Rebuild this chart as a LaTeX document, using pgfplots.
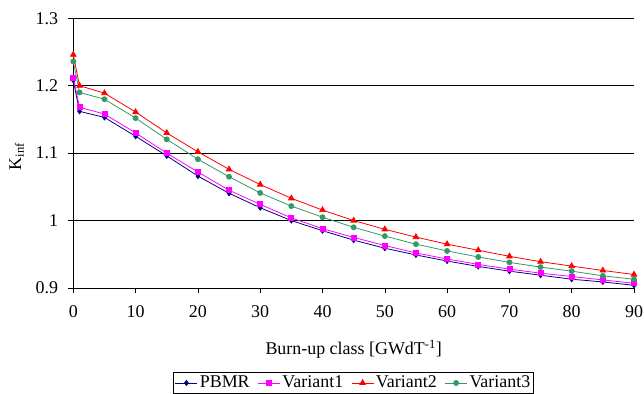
\documentclass[border=0pt]{standalone}
\usepackage{pgfplots}
\pgfplotsset{compat=1.18}
\usepackage{fontspec}
\setmainfont{Liberation Serif}
\definecolor{pbmr}{RGB}{0,0,128}
\definecolor{vone}{RGB}{255,0,255}
\definecolor{vtwo}{RGB}{255,0,0}
\definecolor{vthree}{RGB}{51,153,102}
\begin{document}
\fontsize{18}{21}\selectfont
\begin{tikzpicture}
\begin{axis}[name=ax,
  scale only axis, width=560.7bp, height=269.7bp,
  xmin=0, xmax=90, ymin=0.9, ymax=1.3,
  xtick={0,10,...,90}, ytick={0.9,1,1.1,1.2,1.3},
  yticklabels={0.9,1,1.1,1.2,1.3},
  /pgf/number format/assume math mode=true,
  ticklabel style={font=\fontsize{18}{21}\selectfont},
  xticklabel style={yshift=-6bp},
  yticklabel style={xshift=-4bp},
  axis x line*=bottom, axis y line*=left,
  axis line style={black, line width=0.6pt, -},
  tick style={black, line width=0.6pt},
  tick align=outside, major tick length=5bp,
  ymajorgrids, grid style={black, line width=0.6pt},
  clip=false,
  xlabel={Burn-up class [GWdT\textsuperscript{-1}]},
  ylabel={K\textsubscript{inf}},
  xlabel style={at={(axis description cs:0.5,-0.226)}, anchor=center, font=\fontsize{18}{21}\selectfont},
  ylabel style={at={(axis description cs:-0.101,0.487)}, anchor=center, font=\fontsize{18}{21}\selectfont},
  legend columns=4,
  legend style={at={(axis description cs:0.5,-0.352)}, anchor=center, draw=black, line width=0.6pt,
    font=\fontsize{18}{21}\selectfont, /tikz/every even column/.append style={column sep=6bp},
    inner sep=1.5bp},
  legend image code/.code={\draw[mark repeat=2,mark phase=2] plot coordinates {(0bp,0bp)(11bp,0bp)(22bp,0bp)};},
  legend cell align=left,
  every axis plot/.append style={line width=0.8pt},
]
\addplot[pbmr, mark=diamond*, mark size=2.5bp] coordinates {
(0,1.208)(1,1.162)(5,1.153)(10,1.125)(15,1.096)(20,1.066)(25,1.0405)(30,1.019)(35,1.000)(40,0.985)
(45,0.971)(50,0.959)(55,0.949)(60,0.940)(65,0.932)(70,0.925)(75,0.919)(80,0.913)(85,0.909)(90,0.904)};
\addlegendentry{PBMR}
\addplot[vone, mark=square*, mark size=2.5bp] coordinates {
(0,1.212)(1,1.168)(5,1.158)(10,1.130)(15,1.100)(20,1.072)(25,1.045)(30,1.024)(35,1.004)(40,0.988)
(45,0.975)(50,0.963)(55,0.952)(60,0.943)(65,0.935)(70,0.928)(75,0.922)(80,0.917)(85,0.912)(90,0.907)};
\addlegendentry{Variant1}
\addplot[vtwo, mark=triangle*, mark size=3.2bp] coordinates {
(0,1.246)(1,1.200)(5,1.189)(10,1.161)(15,1.130)(20,1.102)(25,1.076)(30,1.0535)(35,1.033)(40,1.0156)
(45,1.000)(50,0.987)(55,0.9755)(60,0.965)(65,0.956)(70,0.947)(75,0.939)(80,0.9325)(85,0.926)(90,0.920)};
\addlegendentry{Variant2}
\addplot[vthree, mark=*, mark size=2.5bp] coordinates {
(0,1.236)(1,1.190)(5,1.180)(10,1.152)(15,1.1205)(20,1.091)(25,1.065)(30,1.041)(35,1.0215)(40,1.005)
(45,0.990)(50,0.977)(55,0.965)(60,0.955)(65,0.946)(70,0.938)(75,0.931)(80,0.925)(85,0.918)(90,0.913)};
\addlegendentry{Variant3}
\end{axis}
\pgfresetboundingbox
\path[use as bounding box] ([shift={(-73.3bp,-106bp)}]ax.south west) rectangle ([shift={(10bp,18.3bp)}]ax.north east);
\end{tikzpicture}
\end{document}
